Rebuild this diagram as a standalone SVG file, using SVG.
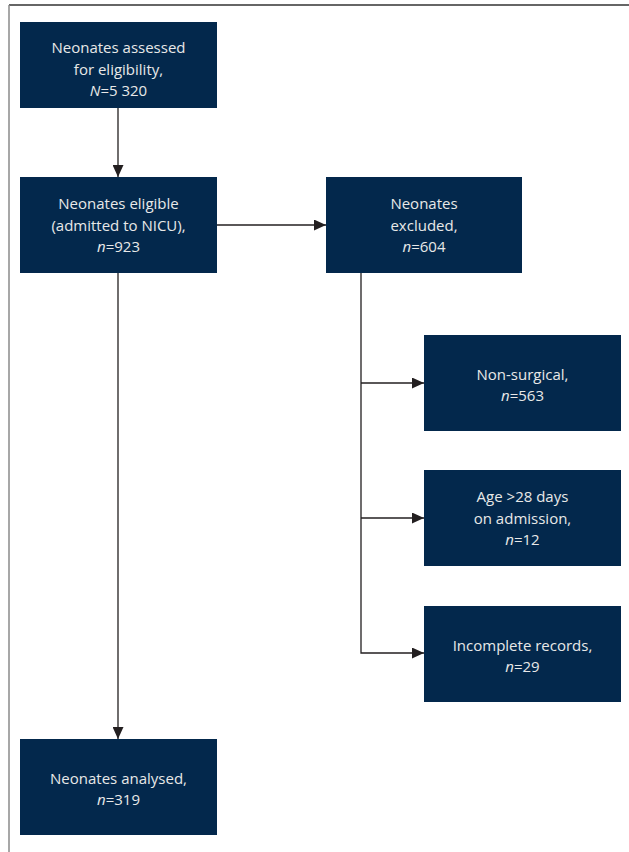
<svg xmlns="http://www.w3.org/2000/svg" width="629" height="852" viewBox="0 0 629 852">
<style>
.box{fill:#03284c}
.t{font-family:"Open Sans","Noto Sans",sans-serif;font-size:15px;fill:#e8e8e8;text-anchor:middle}
.ln{stroke:#231f20;stroke-width:1.3;fill:none}
</style>
<defs>
<marker id="ah" markerWidth="12" markerHeight="11" refX="12" refY="5.5" orient="auto" markerUnits="userSpaceOnUse">
<path d="M0,0 L12,5.5 L0,11 Z" fill="#231f20"/>
</marker>
</defs>
<rect width="629" height="852" fill="#fff"/>
<line x1="9" y1="5" x2="629" y2="5" stroke="#333" stroke-width="1.3"/>
<line x1="9" y1="5" x2="9" y2="852" stroke="#8a8a8a" stroke-width="1.5"/>
<g id="connectors">
<line class="ln" x1="118" y1="108" x2="118" y2="177" marker-end="url(#ah)"/>
<line class="ln" x1="217" y1="225" x2="326" y2="225" marker-end="url(#ah)"/>
<line class="ln" x1="118" y1="273" x2="118" y2="739" marker-end="url(#ah)"/>
<polyline class="ln" points="361,273 361,653 424,653" marker-end="url(#ah)"/>
<line class="ln" x1="361" y1="383" x2="424" y2="383" marker-end="url(#ah)"/>
<line class="ln" x1="361" y1="518" x2="424" y2="518" marker-end="url(#ah)"/>
</g>
<g id="n1"><rect class="box" x="20" y="22" width="197" height="86"/>
<text class="t" x="118.5" y="53">Neonates assessed</text>
<text class="t" x="118.5" y="75">for eligibility,</text>
<text class="t" x="118.5" y="96"><tspan font-style="italic">N</tspan>=5 320</text></g>
<g id="n2"><rect class="box" x="20" y="177" width="197" height="96"/>
<text class="t" x="118.5" y="209">Neonates eligible</text>
<text class="t" x="118.5" y="231">(admitted to NICU),</text>
<text class="t" x="118.5" y="252"><tspan font-style="italic">n</tspan>=923</text></g>
<g id="n3"><rect class="box" x="326" y="177" width="196" height="96"/>
<text class="t" x="424" y="209">Neonates</text>
<text class="t" x="424" y="231">excluded,</text>
<text class="t" x="424" y="252"><tspan font-style="italic">n</tspan>=604</text></g>
<g id="n4"><rect class="box" x="424" y="335" width="197" height="96"/>
<text class="t" x="522.5" y="380">Non-surgical,</text>
<text class="t" x="522.5" y="401"><tspan font-style="italic">n</tspan>=563</text></g>
<g id="n5"><rect class="box" x="424" y="470" width="197" height="96"/>
<text class="t" x="522.5" y="502">Age &gt;28 days</text>
<text class="t" x="522.5" y="524">on admission,</text>
<text class="t" x="522.5" y="545"><tspan font-style="italic">n</tspan>=12</text></g>
<g id="n6"><rect class="box" x="424" y="606" width="197" height="96"/>
<text class="t" x="522.5" y="651">Incomplete records,</text>
<text class="t" x="522.5" y="672"><tspan font-style="italic">n</tspan>=29</text></g>
<g id="n7"><rect class="box" x="20" y="739" width="197" height="96"/>
<text class="t" x="118.5" y="784">Neonates analysed,</text>
<text class="t" x="118.5" y="805"><tspan font-style="italic">n</tspan>=319</text></g>
</svg>
